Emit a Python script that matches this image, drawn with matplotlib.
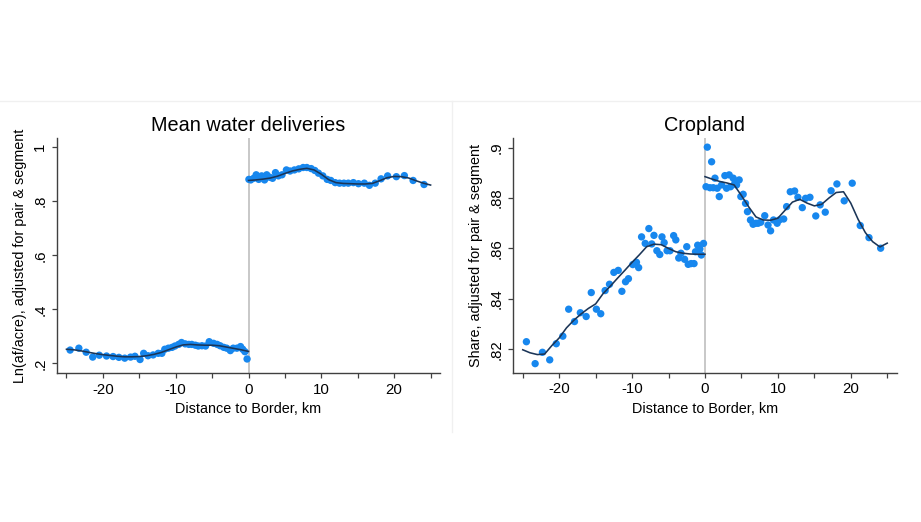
import numpy as np
import matplotlib.pyplot as plt
from matplotlib.lines import Line2D
from matplotlib.ticker import FixedLocator, FuncFormatter

plt.rcParams['font.family'] = ['Liberation Sans', 'DejaVu Sans']

# Mean water deliveries: binned points, west (x<0) and east (x>0) of the border
water_lo_x = [-24.5, -23.3, -22.3, -21.4, -20.5, -19.5, -18.6, -17.8, -17.0, -16.2,
              -15.6, -14.9, -14.4, -13.8, -13.1, -12.4, -11.9, -11.5, -11.0, -10.5,
              -10.1, -9.6, -9.2, -8.7, -8.2, -7.8, -7.3, -6.9, -6.4, -5.9,
              -5.4, -4.8, -4.3, -3.9, -3.4, -3.0, -2.5, -2.1, -1.6, -1.1,
              -0.8, -0.5, -0.2]
water_lo_y = [0.249, 0.256, 0.241, 0.223, 0.230, 0.227, 0.225, 0.222, 0.219, 0.223,
              0.226, 0.214, 0.237, 0.228, 0.231, 0.237, 0.237, 0.252, 0.256, 0.259,
              0.264, 0.270, 0.277, 0.272, 0.270, 0.270, 0.267, 0.264, 0.265, 0.264,
              0.280, 0.274, 0.270, 0.265, 0.259, 0.256, 0.247, 0.256, 0.256, 0.262,
              0.252, 0.243, 0.216]
water_hi_x = [0.05, 0.3, 0.7, 1.05, 1.4, 1.8, 2.2, 2.5, 2.9, 3.3,
              3.7, 4.1, 4.6, 5.2, 5.7, 6.3, 6.9, 7.5, 8.0, 8.6,
              9.1, 9.6, 10.2, 10.8, 11.3, 11.9, 12.5, 13.1, 13.7, 14.4,
              15.1, 15.9, 16.6, 17.4, 18.2, 19.1, 20.3, 21.4, 22.6, 24.1]
water_hi_y = [0.881, 0.879, 0.885, 0.898, 0.881, 0.894, 0.879, 0.898, 0.889, 0.885,
              0.906, 0.894, 0.898, 0.916, 0.912, 0.916, 0.920, 0.925, 0.925, 0.921,
              0.914, 0.904, 0.894, 0.881, 0.877, 0.869, 0.867, 0.867, 0.867, 0.869,
              0.865, 0.867, 0.859, 0.867, 0.883, 0.894, 0.891, 0.895, 0.877, 0.862]

# fitted lines, read at 1 km steps
water_fit_lo_x = list(range(-25, 1))
water_fit_lo_y = [0.252, 0.250, 0.246, 0.241, 0.236, 0.232, 0.229, 0.226, 0.224, 0.224,
                  0.225, 0.228, 0.233, 0.240, 0.250, 0.260, 0.268, 0.270, 0.268, 0.267,
                  0.267, 0.265, 0.260, 0.255, 0.250, 0.244]
water_fit_hi_x = list(range(0, 26))
water_fit_hi_y = [0.877, 0.879, 0.882, 0.886, 0.893, 0.903, 0.912, 0.918, 0.922, 0.916,
                  0.900, 0.880, 0.869, 0.866, 0.865, 0.864, 0.864, 0.866, 0.876, 0.887,
                  0.892, 0.891, 0.886, 0.876, 0.867, 0.860]

# Cropland share
crop_lo_x = [-24.5, -23.3, -22.3, -21.3, -20.4, -19.5, -18.7, -17.9, -17.1, -16.3,
             -15.6, -14.9, -14.3, -13.7, -13.1, -12.5, -11.9, -11.4, -10.9, -10.5,
             -9.9, -9.4, -9.1, -8.7, -8.2, -7.7, -7.3, -7.0, -6.6, -6.2,
             -5.9, -5.6, -5.2, -4.8, -4.3, -4.0, -3.6, -3.3, -2.8, -2.5,
             -2.3, -1.9, -1.5, -1.3, -1.0, -0.7, -0.5, -0.2]
crop_lo_y = [0.8230, 0.8143, 0.8188, 0.8158, 0.8222, 0.8252, 0.8359, 0.8310, 0.8345, 0.8330,
             0.8425, 0.8359, 0.8341, 0.8433, 0.8458, 0.8505, 0.8513, 0.8430, 0.8468, 0.8480,
             0.8536, 0.8545, 0.8524, 0.8646, 0.8620, 0.8679, 0.8618, 0.8652, 0.8591, 0.8576,
             0.8646, 0.8623, 0.8591, 0.8591, 0.8651, 0.8634, 0.8562, 0.8581, 0.8557, 0.8607,
             0.8537, 0.8540, 0.8540, 0.8587, 0.8613, 0.8598, 0.8574, 0.8620]
crop_hi_x = [0.32, 0.91, 0.14, 0.68, 1.14, 1.37, 1.68, 1.96, 2.28, 2.73,
             2.96, 3.32, 3.51, 3.87, 4.1, 4.33, 4.69, 4.92, 5.24, 5.56,
             5.83, 6.24, 6.6, 6.97, 7.29, 7.65, 8.2, 8.65, 9.0, 9.4,
             9.9, 10.2, 10.8, 11.2, 11.7, 12.3, 12.75, 13.35, 13.8, 14.4,
             15.2, 15.8, 16.5, 17.3, 18.1, 19.1, 20.2, 21.3, 22.5, 24.1]
crop_hi_y = [0.9002, 0.8944, 0.8845, 0.8841, 0.8841, 0.8879, 0.8839, 0.8806, 0.8852, 0.8889,
             0.8839, 0.8892, 0.8845, 0.8879, 0.8859, 0.8852, 0.8872, 0.8806, 0.8815, 0.8779,
             0.8746, 0.8713, 0.8696, 0.8700, 0.8700, 0.8704, 0.8730, 0.8693, 0.8670, 0.8713,
             0.8700, 0.8713, 0.8717, 0.8766, 0.8825, 0.8828, 0.8803, 0.8762, 0.8799, 0.8803,
             0.8729, 0.8773, 0.8744, 0.8829, 0.8856, 0.8789, 0.8859, 0.8691, 0.8643, 0.8601]

crop_fit_lo_x = list(range(-25, 1))
crop_fit_lo_y = [0.8198, 0.8186, 0.8179, 0.8181, 0.8215, 0.8245, 0.8285, 0.8315, 0.8340, 0.8362,
                 0.8380, 0.8420, 0.8450, 0.8482, 0.8513, 0.8545, 0.8575, 0.8607, 0.8617, 0.8615,
                 0.8600, 0.8587, 0.8581, 0.8578, 0.8577, 0.8577]
crop_fit_hi_x = list(range(0, 26))
crop_fit_hi_y = [0.8885, 0.8875, 0.8866, 0.8860, 0.8852, 0.8810, 0.8765, 0.8725, 0.8713, 0.8712,
                 0.8720, 0.8752, 0.8784, 0.8795, 0.8780, 0.8769, 0.8775, 0.8800, 0.8822, 0.8825,
                 0.8780, 0.8716, 0.8663, 0.8627, 0.8606, 0.8621]

water_yticks = [0.2, 0.4, 0.6, 0.8, 1.0]
crop_yticks = [0.82, 0.84, 0.86, 0.88, 0.90]

dot_color = '#1787ee'
line_color = '#1b3557'
spine_color = '#404040'


def stata_fmt(v, pos):
    s = ('%.2f' % v).rstrip('0').rstrip('.')
    if s.startswith('0.'):
        s = s[1:]
    return s


def panel(ax, title, ylabel, pts, fits, yticks, ylim, ylab_x):
    ax.axvline(0, color='#c4c4c4', lw=1.3, zorder=1)
    for px, py in pts:
        ax.scatter(px, py, s=28, color=dot_color, edgecolors='none', zorder=2)
    for fx, fy in fits:
        ax.plot(fx, fy, color=line_color, lw=1.15, zorder=3)
    ax.set_xlim(-26.3, 26.3)
    ax.set_ylim(*ylim)
    ax.set_xticks([-20, -10, 0, 10, 20])
    ax.xaxis.set_minor_locator(FixedLocator([-25, -15, -5, 5, 15, 25]))
    ax.set_xticklabels(['-20', '-10', '0', '10', '20'])
    ax.set_yticks(yticks)
    ax.yaxis.set_major_formatter(FuncFormatter(stata_fmt))
    ax.tick_params(axis='both', which='both', direction='out', length=3.5,
                   width=0.9, color=spine_color, labelsize=10.8, pad=3.5)
    ax.tick_params(axis='y', labelrotation=90)
    for lab in ax.get_yticklabels():
        lab.set_va('center')
    for side in ['top', 'right']:
        ax.spines[side].set_visible(False)
    for side in ['left', 'bottom']:
        ax.spines[side].set_color(spine_color)
        ax.spines[side].set_linewidth(1.0)
    ax.set_title(title, fontsize=14.3, pad=5)
    ax.set_xlabel('Distance to Border, km', fontsize=10.4)
    ax.xaxis.set_label_coords(0.5, -0.125)
    ax.set_ylabel(ylabel, fontsize=10.4)
    ax.yaxis.set_label_coords(ylab_x, 0.5)


fig = plt.figure(figsize=(9.21, 5.22), dpi=100)
ax1 = fig.add_axes([0.0619, 0.2854, 0.4159, 0.4496])
ax2 = fig.add_axes([0.5573, 0.2860, 0.4163, 0.4490])

panel(ax1, 'Mean water deliveries', 'Ln(af/acre), adjusted for pair & segment',
      [(water_lo_x, water_lo_y), (water_hi_x, water_hi_y)],
      [(water_fit_lo_x, water_fit_lo_y), (water_fit_hi_x, water_fit_hi_y)],
      water_yticks, (0.164, 1.033), -0.078)
panel(ax2, 'Cropland', 'Share, adjusted for pair & segment',
      [(crop_lo_x, crop_lo_y), (crop_hi_x, crop_hi_y)],
      [(crop_fit_lo_x, crop_fit_lo_y), (crop_fit_hi_x, crop_fit_hi_y)],
      crop_yticks, (0.8107, 0.9037), -0.080)

# faint frame between the two graphs
fig.add_artist(Line2D([0, 1], [0.8065, 0.8065], color='#f0f0f0', lw=1))
fig.add_artist(Line2D([0.4908, 0.4908], [0.8065, 0.1724], color='#f0f0f0', lw=1))

fig.savefig('out.png', dpi=100, facecolor='white')
